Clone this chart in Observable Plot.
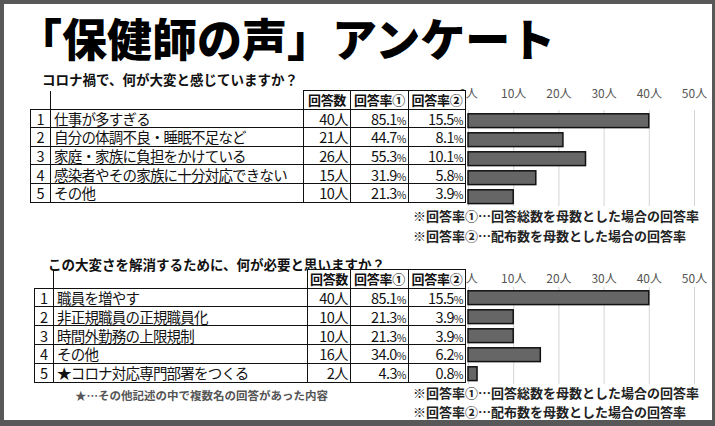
<!DOCTYPE html>
<html><head><meta charset="utf-8">
<script src="https://cdn.jsdelivr.net/npm/d3@7"></script>
<script src="https://cdn.jsdelivr.net/npm/@observablehq/plot@0.6"></script>
<style>
html,body{margin:0;padding:0;}
body{width:715px;height:426px;overflow:hidden;background:#585858;position:relative;font-family:"Noto Sans CJK JP","Noto Sans",sans-serif;color:#111;}
#panel{position:absolute;left:4px;top:4px;width:708px;height:416px;background:#fff;}
.abs{position:absolute;white-space:nowrap;}
#title{left:17px;top:15px;font-size:45px;line-height:1;font-weight:900;letter-spacing:0px;color:#000;}
.sub{font-size:13.5px;font-weight:700;line-height:1;}
.note{font-size:13px;font-weight:700;line-height:1;color:#222;}
.star{font-size:11.5px;font-weight:700;line-height:1;color:#555;}
table{position:absolute;border-collapse:collapse;z-index:5;}
td{border:1.6px solid #111;background:#fff;padding:0;height:17.6px;line-height:15px;font-size:14.5px;white-space:nowrap;vertical-align:middle;}
td.e{border-top:none;border-left:none;background:transparent;}
td.h{font-weight:700;font-size:13px;text-align:center;letter-spacing:-0.3px;}
td.n{text-align:center;}
td.l{padding-left:3px;letter-spacing:-0.8px;}
td.v{text-align:right;padding-right:2px;letter-spacing:-0.6px;}
td.v small{font-size:10.5px;letter-spacing:-0.5px;line-height:10px;}
.chart{position:absolute;z-index:1;}
</style></head>
<body>
<div id="panel"></div>
<div class="abs" id="title">「保健師の声」アンケート</div>
<div class="abs sub" id="sub1" style="left:42px;top:73px;"></div>
<div class="abs sub" id="sub2" style="left:48px;top:258px;"></div>
<div class="abs note" id="n1a" style="left:413px;top:209px;"></div>
<div class="abs note" id="n1b" style="left:413px;top:229px;"></div>
<div class="abs note" id="n2a" style="left:413px;top:386px;"></div>
<div class="abs note" id="n2b" style="left:413px;top:405px;"></div>
<div class="abs star" id="star" style="left:75px;top:390px;"></div>
<div class="chart" id="c1" style="left:440px;top:0px;"></div>
<div class="chart" id="c2" style="left:440px;top:240px;"></div>
<script>
// ---- data ----
const subtitle1 = "コロナ禍で、何が大変と感じていますか？";
const subtitle2 = "この大変さを解消するために、何が必要と思いますか？";
const headers = ["回答数", "回答率①", "回答率②"];
const note1 = "※回答率①…回答総数を母数とした場合の回答率";
const note2 = "※回答率②…配布数を母数とした場合の回答率";
const starNote = "★…その他記述の中で複数名の回答があった内容";

const q1Labels = ["仕事が多すぎる", "自分の体調不良・睡眠不足など", "家庭・家族に負担をかけている", "感染者やその家族に十分対応できない", "その他"];
const q1Counts = [40, 21, 26, 15, 10];
const q1Rate1 = [85.1, 44.7, 55.3, 31.9, 21.3];
const q1Rate2 = [15.5, 8.1, 10.1, 5.8, 3.9];

const q2Labels = ["職員を増やす", "非正規職員の正規職員化", "時間外勤務の上限規制", "その他", "★コロナ対応専門部署をつくる"];
const q2Counts = [40, 10, 10, 16, 2];
const q2Rate1 = [85.1, 21.3, 21.3, 34.0, 4.3];
const q2Rate2 = [15.5, 3.9, 3.9, 6.2, 0.8];

const tickValues = [0, 10, 20, 30, 40, 50];
const tickUnit = "人";

// ---- text ----
document.getElementById("sub1").textContent = subtitle1;
document.getElementById("sub2").textContent = subtitle2;
document.getElementById("n1a").textContent = note1;
document.getElementById("n1b").textContent = note2;
document.getElementById("n2a").textContent = note1;
document.getElementById("n2b").textContent = note2;
document.getElementById("star").textContent = starNote;

function makeTable(labels, counts, r1, r2, left, top, widths, rowH) {
  const t = document.createElement("table");
  t.style.left = left + "px";
  t.style.top = top + "px";
  const cg = document.createElement("colgroup");
  widths.forEach(w => { const c = document.createElement("col"); c.style.width = w + "px"; cg.appendChild(c); });
  t.appendChild(cg);
  t.style.width = d3.sum(widths) + "px";
  t.style.tableLayout = "fixed";
  let html = `<tr><td class="e" style="border-bottom:none"></td><td class="e"></td>` +
    headers.map(h => `<td class="h">${h}</td>`).join("") + `</tr>`;
  labels.forEach((lab, i) => {
    html += `<tr><td class="n" style="height:${rowH}px">${i + 1}</td><td class="l">${lab}</td>` +
      `<td class="v">${counts[i]}${tickUnit}</td>` +
      `<td class="v">${r1[i].toFixed(1)}<small>%</small></td>` +
      `<td class="v">${r2[i].toFixed(1)}<small>%</small></td></tr>`;
  });
  t.innerHTML += html;
  document.body.appendChild(t);
}
makeTable(q1Labels, q1Counts, q1Rate1, q1Rate2, 30, 90, [20, 253, 47, 58, 57], 17.6);
makeTable(q2Labels, q2Counts, q2Rate1, q2Rate2, 34, 269, [19, 254, 43, 58, 57], 17.8);

function barChart(counts, opts) {
  const data = counts.map((c, i) => ({rank: i + 1, count: c}));
  return Plot.plot({
    width: 275,
    height: opts.height,
    marginLeft: 28,
    marginRight: 21,
    marginTop: opts.marginTop,
    marginBottom: opts.marginBottom,
    style: {background: "transparent", fontFamily: "'Noto Sans CJK JP', sans-serif", fontSize: "12px", color: "#555", overflow: "visible"},
    x: {domain: [0, 50], axis: null, label: null},
    y: {domain: data.map(d => d.rank), axis: null, padding: 0, label: null},
    marks: [
      Plot.ruleX(tickValues, {stroke: "#d4d4d4", strokeWidth: 1}),
      Plot.barX(data, {x: "count", y: "rank", fill: "#666", stroke: "#111", strokeWidth: 1.5, insetTop: 2.8, insetBottom: 2.4}),
      Plot.axisX(tickValues, {anchor: "top", tickSize: 0, tickPadding: opts.tickPadding, label: null, tickFormat: d => `${d}${tickUnit}`, fill: "#555"})
    ]
  });
}
document.getElementById("c1").appendChild(barChart(q1Counts, {height: 216, marginTop: 110, marginBottom: 10, tickPadding: 13}));
document.getElementById("c2").appendChild(barChart(q2Counts, {height: 155, marginTop: 47, marginBottom: 11, tickPadding: 5}));
</script>
</body></html>
